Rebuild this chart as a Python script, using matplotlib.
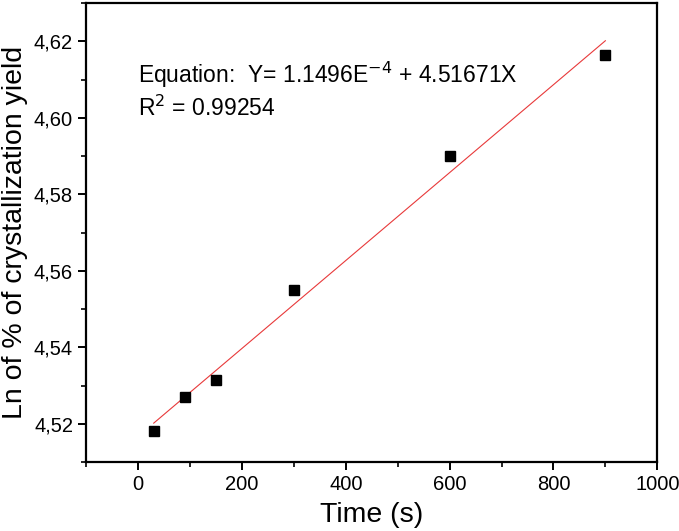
import numpy as np
import matplotlib.pyplot as plt
from matplotlib.ticker import MultipleLocator, FuncFormatter

plt.rcParams['font.family'] = ['Liberation Sans', 'DejaVu Sans']

# data
time_s = [30, 90, 150, 300, 600, 900]
ln_yield = [4.5182, 4.5271, 4.5314, 4.5550, 4.5900, 4.6165]

# linear fit reported on the chart
slope = 1.1496e-4
intercept = 4.51671

fig = plt.figure(figsize=(6.79, 5.31), dpi=100)
ax = fig.add_axes([0.127, 0.13, 0.841, 0.864])

xfit = np.array([time_s[0], time_s[-1]])
ax.plot(xfit, intercept + slope * xfit, color='#e8393a', lw=0.8, zorder=2)
ax.plot(time_s, ln_yield, 's', color='black', markersize=7.5, zorder=3)

ax.set_xlim(-100, 1000)
ax.set_ylim(4.51, 4.63)
ax.xaxis.set_major_locator(MultipleLocator(200))
ax.xaxis.set_minor_locator(MultipleLocator(100))
ax.yaxis.set_major_locator(MultipleLocator(0.02))
ax.yaxis.set_minor_locator(MultipleLocator(0.01))
ax.yaxis.set_major_formatter(FuncFormatter(lambda v, p: f"{v:.2f}".replace('.', ',')))

for s in ax.spines.values():
    s.set_linewidth(1.6)
ax.tick_params(which='major', length=6, width=1.4, labelsize=14.5)
ax.tick_params(which='minor', length=3.5, width=1.2)

ax.set_xlabel('Time (s)', fontsize=20.5, labelpad=6)
ax.set_ylabel('Ln of % of crystallization yield', fontsize=20.5, labelpad=4)

ax.text(0.09, 0.843, 'Equation:  Y= 1.1496E$^{-4}$ + 4.51671X', transform=ax.transAxes,
        fontsize=16.5, va='center')
ax.text(0.09, 0.771, 'R$^{2}$ = 0.99254', transform=ax.transAxes, fontsize=16.5, va='center')

fig.savefig('out.png', dpi=100)
